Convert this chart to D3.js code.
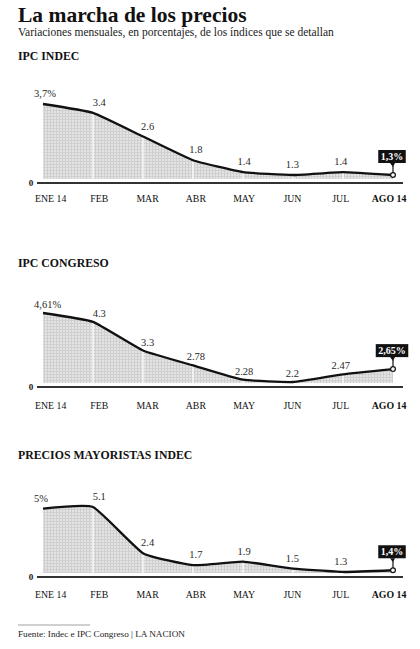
<!DOCTYPE html>
<html>
<head>
<meta charset="utf-8">
<script src="https://cdn.jsdelivr.net/npm/d3@7"></script>
<style>
  html, body { margin: 0; padding: 0; background: #fff; }
  svg { display: block; }
</style>
</head>
<body>
<svg id="chart" width="420" height="649"></svg>
<script>
// Monthly variations (%) — January to August 2014
const months = ["ENE 14", "FEB", "MAR", "ABR", "MAY", "JUN", "JUL", "AGO 14"];
const ipcIndec = [3.7, 3.4, 2.6, 1.8, 1.4, 1.3, 1.4, 1.3];
const ipcCongreso = [4.61, 4.3, 3.3, 2.78, 2.28, 2.2, 2.47, 2.65];
const mayoristas = [5, 5.1, 2.4, 1.7, 1.9, 1.5, 1.3, 1.4];
const panelTitles = ["IPC INDEC", "IPC CONGRESO", "PRECIOS MAYORISTAS INDEC"];
const floors = [1.165, 2.165, 1.24];

// Layout of each small panel (pixels)
const layout = [
  { titleY: 60,  top: 104, bottom: 179, axisY: 183, tickY: 202, valueDy: 7 },
  { titleY: 267, top: 313, bottom: 383, axisY: 387, tickY: 409, valueDy: 5 },
  { titleY: 459, top: 507, bottom: 573, axisY: 577, tickY: 598, valueDy: 7 }
];
const series = [ipcIndec, ipcCongreso, mayoristas];

const serif = "'Liberation Serif', 'DejaVu Serif', serif";
const svg = d3.select("#chart");

// Stippled grey fill
const defs = svg.append("defs");
const pat = defs.append("pattern")
  .attr("id", "stipple").attr("width", 3).attr("height", 3)
  .attr("patternUnits", "userSpaceOnUse");
pat.append("rect").attr("width", 3).attr("height", 3).attr("fill", "#e4e4e4");
pat.append("rect").attr("x", 2).attr("width", 1).attr("height", 3).attr("fill", "#cdcdcd");
pat.append("rect").attr("y", 2).attr("width", 3).attr("height", 1).attr("fill", "#d0d0d0");

// Heading
svg.append("text")
  .attr("x", 18).attr("y", 22)
  .attr("font-family", serif).attr("font-weight", "bold").attr("font-size", 21.5)
  .attr("fill", "#111")
  .text("La marcha de los precios");
svg.append("text")
  .attr("x", 18).attr("y", 36)
  .attr("font-family", serif).attr("font-size", 11.5)
  .attr("fill", "#1a1a1a")
  .text("Variaciones mensuales, en porcentajes, de los índices que se detallan");

// Shared horizontal scales: points and month labels
const x = d3.scalePoint().domain(months).range([43, 393]);
const xLabel = d3.scalePoint().domain(months).range([51, 389]);

const comma = v => String(v).replace(".", ",") + "%";

series.forEach((values, i) => {
  const L = layout[i];
  const g = svg.append("g");
  const data = months.map((m, k) => ({ m, v: values[k] }));

  const y = d3.scaleLinear()
    .domain([floors[i], d3.max(values)])
    .range([L.bottom, L.top]);

  g.append("text")
    .attr("x", 18).attr("y", L.titleY)
    .attr("font-family", serif).attr("font-weight", "bold").attr("font-size", 11.8)
    .attr("fill", "#111")
    .text(panelTitles[i]);

  const curve = d3.curveCardinal.tension(0.6);
  const area = d3.area()
    .x(d => x(d.m)).y0(L.bottom).y1(d => y(d.v)).curve(curve);
  const line = d3.line()
    .x(d => x(d.m)).y(d => y(d.v)).curve(curve);

  const clipId = "clip" + i;
  defs.append("clipPath").attr("id", clipId)
    .append("path").attr("d", area(data));

  g.append("path").attr("d", area(data)).attr("fill", "url(#stipple)");

  // light month dividers inside the shaded area
  g.append("g").attr("clip-path", `url(#${clipId})`)
    .selectAll("line").data(months.slice(1, -1)).join("line")
    .attr("x1", d => x(d)).attr("x2", d => x(d))
    .attr("y1", L.top - 5).attr("y2", L.bottom)
    .attr("stroke", "#fff").attr("stroke-width", 1.2);

  // zero line
  g.append("line")
    .attr("x1", 37).attr("x2", 403)
    .attr("y1", L.axisY).attr("y2", L.axisY)
    .attr("stroke", "#333").attr("stroke-width", 1.8);
  g.append("text")
    .attr("x", 31).attr("y", L.axisY + 3)
    .attr("text-anchor", "middle")
    .attr("font-family", serif).attr("font-weight", "bold").attr("font-size", 9)
    .attr("fill", "#111")
    .text("0");

  g.append("path").attr("d", line(data))
    .attr("fill", "none").attr("stroke", "#111")
    .attr("stroke-width", 2.3).attr("stroke-linejoin", "round");

  // month labels
  g.selectAll("text.tick").data(months).join("text")
    .attr("class", "tick")
    .attr("x", (d, k) => k === 0 ? 35 : xLabel(d))
    .attr("y", L.tickY)
    .attr("text-anchor", (d, k) => k === 0 ? "start" : "middle")
    .attr("font-family", serif)
    .attr("font-weight", (d, k) => k === months.length - 1 ? "bold" : "normal")
    .attr("font-size", 9.8)
    .attr("fill", "#111")
    .text(d => d);

  // value labels (first and middle months)
  g.selectAll("text.val").data(data.slice(0, -1)).join("text")
    .attr("class", "val")
    .attr("x", (d, k) => k === 0 ? 34 : xLabel(d.m))
    .attr("y", d => y(d.v) - L.valueDy)
    .attr("text-anchor", (d, k) => k === 0 ? "start" : "middle")
    .attr("font-family", serif).attr("font-size", 10.5)
    .attr("fill", "#2a2a2a")
    .text((d, k) => k === 0 ? comma(d.v) : String(d.v));

  // highlighted last value
  const last = data[data.length - 1];
  const px = x(last.m), py = y(last.v);
  const boxBottom = py - 12;
  const lbl = g.append("text")
    .attr("x", px - 1).attr("y", boxBottom - 3.5)
    .attr("text-anchor", "middle")
    .attr("font-family", serif).attr("font-weight", "bold").attr("font-size", 10)
    .attr("fill", "#fff")
    .text(comma(last.v));
  const w = lbl.node().getComputedTextLength() + 5;
  g.insert("rect", () => lbl.node())
    .attr("x", px - 1 - w / 2).attr("y", boxBottom - 13)
    .attr("width", w).attr("height", 13)
    .attr("fill", "#111");
  g.insert("path", () => lbl.node())
    .attr("d", `M${px - 3},${boxBottom} L${px + 2},${boxBottom} L${px},${boxBottom + 4} Z`)
    .attr("fill", "#111");
  g.append("line")
    .attr("x1", px).attr("x2", px)
    .attr("y1", boxBottom + 3).attr("y2", py - 2)
    .attr("stroke", "#111").attr("stroke-width", 1.2);
  g.append("circle")
    .attr("cx", px).attr("cy", py).attr("r", 2.4)
    .attr("fill", "#fff").attr("stroke", "#111").attr("stroke-width", 1.2);
});

// Source line
svg.append("line")
  .attr("x1", 18).attr("x2", 90).attr("y1", 625).attr("y2", 625)
  .attr("stroke", "#888").attr("stroke-width", 0.8);
svg.append("text")
  .attr("x", 18).attr("y", 637)
  .attr("font-family", serif).attr("font-size", 9.2)
  .attr("fill", "#222")
  .text("Fuente: Indec e IPC Congreso | LA NACION");
</script>
</body>
</html>
